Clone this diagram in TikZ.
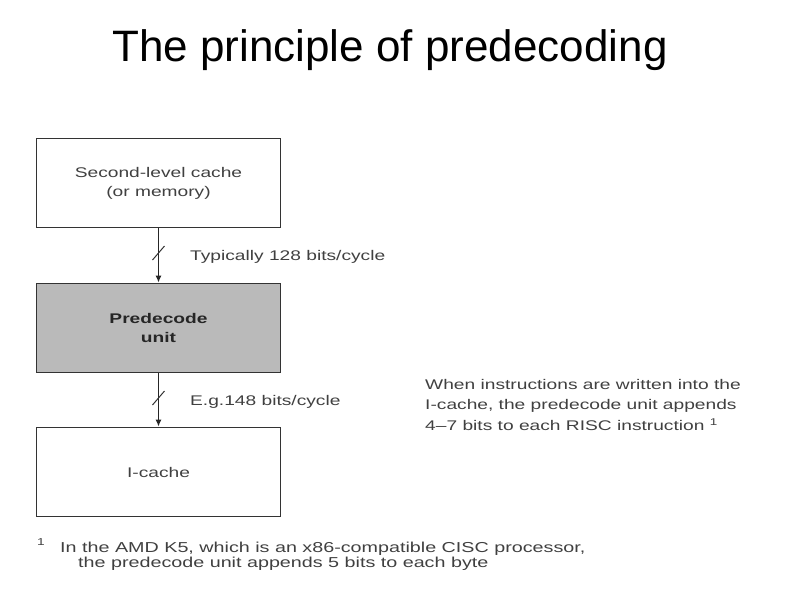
\documentclass[tikz,border=0pt]{standalone}
\usepackage{fontspec}
\setmainfont{Liberation Sans}
\newfontfamily\widefont[FakeStretch=1.37,Ligatures=TeX]{Liberation Sans}
\usetikzlibrary{arrows.meta}
\begin{document}
\begin{tikzpicture}[x=1pt,y=-1pt,
  box/.style={draw=black!80, line width=1.7pt, minimum width=244pt, minimum height=89pt,
    inner sep=0pt, align=center, font=\widefont\fontsize{14}{19}\selectfont, text=black!75},
  lbl/.style={font=\widefont\fontsize{14}{20.5}\selectfont, text=black!75, inner sep=0pt, align=left},
  fnote/.style={lbl, anchor=west, font=\widefont\fontsize{14.4}{15}\selectfont},
  conn/.style={draw=black!85, line width=1.3pt, -{Latex[length=7pt,width=6pt]}},
  slash/.style={draw=black!80, line width=1pt}]
\useasboundingbox (0,0) rectangle (794,595);
\node[font=\fontsize{44}{50}\selectfont, anchor=base, inner sep=0pt] (title) at (390,61) {The principle of predecoding};
\node[box] (l2) at (158.5,183) {Second-level cache\\(or memory)};
\node[box, fill=black!27, font=\widefont\bfseries\fontsize{14}{19}\selectfont, text=black!85] (pre) at (158.5,328) {Predecode\\unit};
\node[box] (ic) at (158.5,472) {I-cache};
\draw[conn] (l2.south) -- (pre.north);
\draw[conn] (pre.south) -- (ic.north);
\coordinate (s1) at (158.5,253);
\coordinate (s2) at (158.5,398);
\draw[slash] (s1) ++(-6,7) -- ++(12,-14);
\draw[slash] (s2) ++(-6,7) -- ++(12,-14);
\node[lbl, anchor=west] (t1) at (190,257) {Typically 128 bits/cycle};
\node[lbl, anchor=west] (t2) at (190,402) {E.g.148 bits/cycle};
\node[lbl, anchor=north west] (note) at (425,379) {When instructions are written into the\\I-cache, the predecode unit appends\\4–7 bits to each RISC instruction \textsuperscript{1}};
\node[lbl, anchor=west, font=\widefont\fontsize{10}{12}\selectfont] (fn) at (37,542) {1};
\node[fnote] (f1) at (60,549) {In the AMD K5, which is an x86-compatible CISC processor,};
\node[fnote] (f2) at (78,564) {the predecode unit appends 5 bits to each byte};
\end{tikzpicture}
\end{document}
